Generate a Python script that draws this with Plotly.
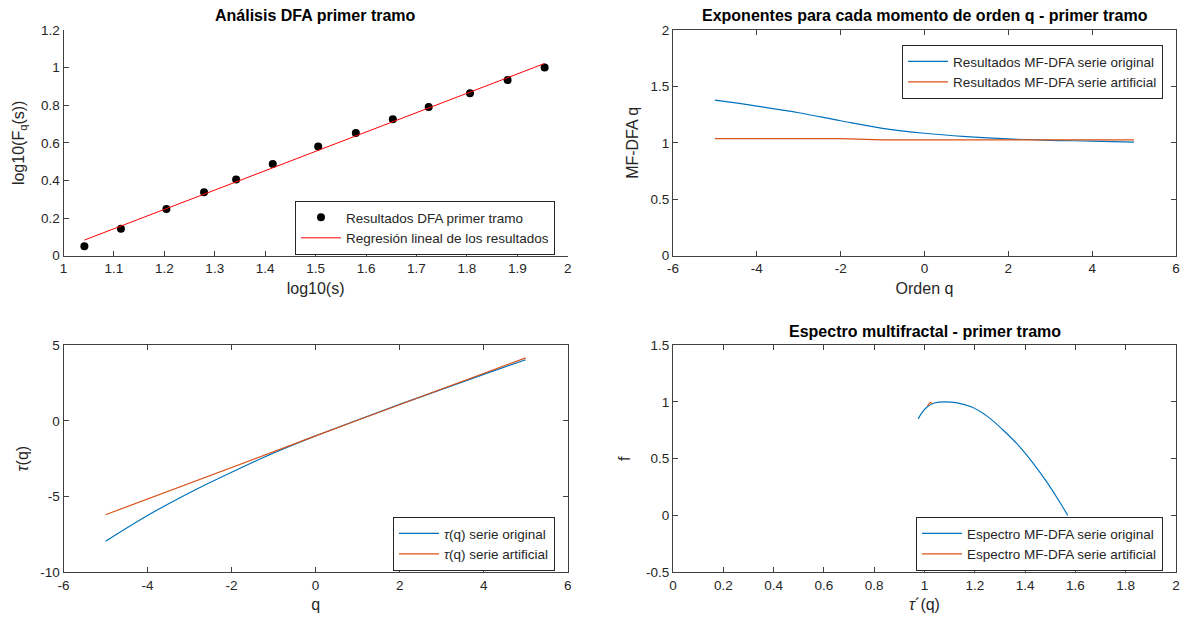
import plotly.graph_objects as go

# ---------------- data ----------------
log_s = [1.0414, 1.1139, 1.2041, 1.2788, 1.3424, 1.4150, 1.5051, 1.5798,
         1.6532, 1.7243, 1.8062, 1.8808, 1.9542]
log_F = [0.050, 0.143, 0.248, 0.337, 0.405, 0.487, 0.580, 0.652,
         0.726, 0.790, 0.864, 0.934, 1.000]
fit_x = [1.0414, 1.9542]
fit_y = [0.083, 1.022]

q_vals = [-5, -4, -3, -2, -1, 0, 1, 2, 3, 4, 5]
h_orig = [1.378, 1.326, 1.267, 1.196, 1.129, 1.085, 1.056, 1.035, 1.022, 1.016, 1.006]
h_art = [1.038, 1.038, 1.038, 1.038, 1.026, 1.026, 1.026, 1.026, 1.026, 1.026, 1.026]

tau_orig = [-7.95, -6.25, -4.75, -3.40, -2.13, -1.00, 0.05, 1.08, 2.07, 3.06, 4.03]
tau_art = [-6.20, -5.15, -4.10, -3.06, -2.03, -1.00, 0.03, 1.06, 2.09, 3.12, 4.15]

alpha_orig = [0.975, 0.99, 1.01, 1.04, 1.08, 1.13, 1.19, 1.25, 1.31, 1.37, 1.43, 1.49, 1.53, 1.57]
f_orig = [0.85, 0.905, 0.955, 0.99, 1.00, 0.99, 0.952, 0.872, 0.757, 0.625, 0.465, 0.282, 0.145, 0.00]
alpha_art = [1.012, 1.022, 1.032]
f_art = [0.965, 0.995, 0.985]

ticks_tl_x = [1, 1.1, 1.2, 1.3, 1.4, 1.5, 1.6, 1.7, 1.8, 1.9, 2]
ticks_tl_y = [0, 0.2, 0.4, 0.6, 0.8, 1, 1.2]
ticks_q = [-6, -4, -2, 0, 2, 4, 6]
ticks_h = [0, 0.5, 1, 1.5, 2]
ticks_tau = [-10, -5, 0, 5]
ticks_alpha = [0, 0.2, 0.4, 0.6, 0.8, 1, 1.2, 1.4, 1.6, 1.8, 2]
ticks_f = [-0.5, 0, 0.5, 1, 1.5]

BLUE = "#0072BD"
ORANGE = "#D95319"
AX = "#404040"
TXT = "#262626"
FONT = "Liberation Sans"
TAU = "<i>τ</i>"

fig = go.Figure()

# top-left
fig.add_trace(go.Scatter(x=log_s, y=log_F, mode="markers",
                         marker=dict(color="black", size=8),
                         name="Resultados DFA primer tramo",
                         xaxis="x", yaxis="y", legend="legend"))
fig.add_trace(go.Scatter(x=fit_x, y=fit_y, mode="lines",
                         line=dict(color="#FF0000", width=1),
                         name="Regresión lineal de los resultados",
                         xaxis="x", yaxis="y", legend="legend"))
# top-right
fig.add_trace(go.Scatter(x=q_vals, y=h_orig, mode="lines",
                         line=dict(color=BLUE, width=1.2, shape="spline"),
                         name="Resultados MF-DFA serie original",
                         xaxis="x2", yaxis="y2", legend="legend2"))
fig.add_trace(go.Scatter(x=q_vals, y=h_art, mode="lines",
                         line=dict(color=ORANGE, width=1.2),
                         name="Resultados MF-DFA serie artificial",
                         xaxis="x2", yaxis="y2", legend="legend2"))
# bottom-left
fig.add_trace(go.Scatter(x=q_vals, y=tau_orig, mode="lines",
                         line=dict(color=BLUE, width=1.2, shape="spline"),
                         name=TAU + "(q) serie original",
                         xaxis="x3", yaxis="y3", legend="legend3"))
fig.add_trace(go.Scatter(x=q_vals, y=tau_art, mode="lines",
                         line=dict(color=ORANGE, width=1.2),
                         name=TAU + "(q) serie artificial",
                         xaxis="x3", yaxis="y3", legend="legend3"))
# bottom-right
fig.add_trace(go.Scatter(x=alpha_orig, y=f_orig, mode="lines",
                         line=dict(color=BLUE, width=1.2, shape="spline"),
                         name="Espectro MF-DFA serie original",
                         xaxis="x4", yaxis="y4", legend="legend4"))
fig.add_trace(go.Scatter(x=alpha_art, y=f_art, mode="lines",
                         line=dict(color=ORANGE, width=1.2),
                         name="Espectro MF-DFA serie artificial",
                         xaxis="x4", yaxis="y4", legend="legend4"))

W, H = 1183, 623
def px_x(a, b):
    return [a / W, b / W]
def px_y(top, bottom):
    return [1 - bottom / H, 1 - top / H]

dx_left = px_x(63.5, 567.7)
dx_right = px_x(673, 1176)
dy_top = px_y(30, 255.7)
dy_bot = px_y(345, 572.3)

def fmt(v):
    return ("%g" % v)

def axis(domain, anchor, rng, tvals, title, mirror=True, standoff=8):
    return dict(domain=domain, anchor=anchor, range=rng,
                tickmode="array", tickvals=tvals, ticktext=[fmt(v) for v in tvals],
                showline=True, linecolor=AX, linewidth=1,
                mirror="ticks" if mirror else False,
                ticks="inside", ticklen=5, tickcolor=AX,
                showgrid=False, zeroline=False, automargin=False,
                tickfont=dict(family=FONT, size=13.5, color=TXT),
                title=dict(text=title, standoff=standoff,
                           font=dict(family=FONT, size=16, color=TXT)))

def legend(right_px, top_px):
    return dict(x=right_px / W, y=1 - top_px / H, xanchor="right", yanchor="top",
                bgcolor="white", bordercolor="#262626", borderwidth=1,
                font=dict(family=FONT, size=13.5, color=TXT),
                tracegroupgap=0, itemwidth=40)

def title_ann(text, cx, cy):
    return dict(text="<b>" + text + "</b>", x=cx / W, y=1 - cy / H,
                xref="paper", yref="paper", xanchor="center", yanchor="middle",
                showarrow=False, font=dict(family=FONT, size=16, color="black"))

fig.update_layout(
    template="none",
    width=W, height=H,
    margin=dict(l=0, r=0, t=0, b=0, pad=0),
    paper_bgcolor="white", plot_bgcolor="white",
    showlegend=True,
    xaxis=axis(dx_left, "y", [1, 2], ticks_tl_x, "log10(s)", mirror=False, standoff=7),
    yaxis=axis(dy_top, "x", [0, 1.2], ticks_tl_y, "log10(F<sub>q</sub>(s))", mirror=False, standoff=12),
    xaxis2=axis(dx_right, "y2", [-6, 6], ticks_q, "Orden q", standoff=7),
    yaxis2=axis(dy_top, "x2", [0, 2], ticks_h, "MF-DFA q", standoff=7),
    xaxis3=axis(dx_left, "y3", [-6, 6], ticks_q, "q", standoff=7),
    yaxis3=axis(dy_bot, "x3", [-10, 5], ticks_tau, TAU + "(q)", standoff=7),
    xaxis4=axis(dx_right, "y4", [0, 2], ticks_alpha, TAU + "´(q)", standoff=7),
    yaxis4=axis(dy_bot, "x4", [-0.5, 1.5], ticks_f, "f", standoff=11),
    legend=legend(555, 201),
    legend2=legend(1163, 45),
    legend3=legend(555, 517),
    legend4=legend(1163, 517),
    annotations=[
        title_ann("Análisis DFA primer tramo", (63.5 + 567.7) / 2, 15),
        title_ann("Exponentes para cada momento de orden q - primer tramo", (673 + 1176) / 2, 15),
        title_ann("Espectro multifractal - primer tramo", (673 + 1176) / 2, 331),
    ],
)

fig.write_html("out.html")
